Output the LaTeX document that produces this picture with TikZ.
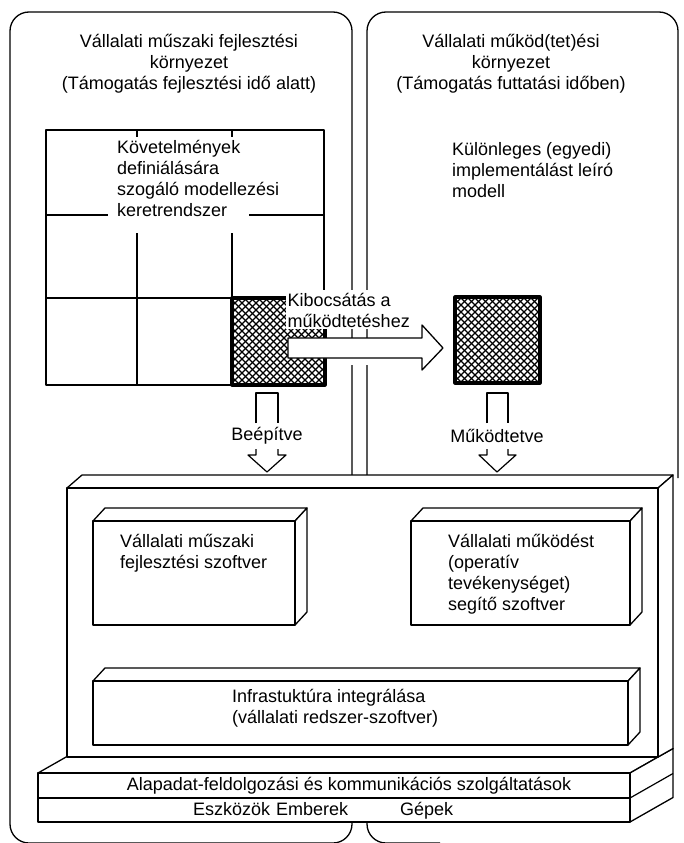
\documentclass[tikz,border=0pt]{standalone}
\usepackage{fontspec}
\setmainfont{Liberation Sans}
\begin{document}
\begin{tikzpicture}[x=1pt,y=-1pt,line join=round,
  every node/.style={inner sep=0pt,font=\fontsize{18}{21}\selectfont},
  ln/.style={line width=1.2pt},
  frame/.style={line width=1.3pt,rounded corners=19pt},
  thick border/.style={line width=3.2pt},
  hatchline/.style={line width=1.3pt},
  solid/.style={line width=1.3pt,fill=white},
  txt/.style={align=left,anchor=north west},
  ctxt/.style={align=center,anchor=north}]
\useasboundingbox (0,0) rectangle (683,843);

% the two environment frames
\draw[frame] (352,478) -- (352,12) -- (10,12) -- (10,843) -- (352,843) -- (352,818);
\draw[frame] (367,478) -- (367,12) -- (678,12) -- (678,478);
\draw[frame] (367,818) -- (367,843) -- (440,843);

\node[ctxt] (titleL) at (189,33) {\strut Vállalati műszaki fejlesztési\\környezet\\(Támogatás fejlesztési idő alatt)};
\node[ctxt] (titleR) at (511,33) {\strut Vállalati működ(tet)ési\\környezet\\(Támogatás futtatási időben)};

% modelling framework grid
\draw[ln] (324,290) -- (324,130) -- (46,130) -- (46,385) -- (232,385);
\draw[ln] (46,215) -- (108,215) (249,215) -- (324,215);
\draw[ln] (137,130) -- (137,137) (232,130) -- (232,137);
\draw[ln] (137,233) -- (137,385) (232,233) -- (232,298);
\draw[ln] (46,298) -- (232,298);
\node[txt] (frameworkText) at (117,139) {\strut Követelmények\\definiálására\\szogáló modellezési\\keretrendszer};

% hatched model squares
\begin{scope}
  \clip (232,298) rectangle (325,385);
  \foreach \k in {-100,-93,...,100} {
    \draw[hatchline] (232+\k,298) -- ++(100,100);
    \draw[hatchline] (232+\k,385) -- ++(100,-100);
  }
\end{scope}
\draw[thick border] (232,298) rectangle (325,385);
\begin{scope}
  \clip (455,297) rectangle (540,383);
  \foreach \k in {-100,-93,...,100} {
    \draw[hatchline] (455+\k,297) -- ++(100,100);
    \draw[hatchline] (455+\k,383) -- ++(100,-100);
  }
\end{scope}
\draw[thick border] (455,297) rectangle (540,383);
\node[txt] (implText) at (452,141) {\strut Különleges (egyedi)\\implementálást leíró\\modell};

% release label and hollow arrow; the frame lines break around them
\fill[white] (340,358) rectangle (380,365);
\node[txt,fill=white,inner sep=1.5pt] (release) at (286,290) {\strut Kibocsátás a\\működtetéshez};
\draw[solid] (288,338) -- (422,338) -- (422,325) -- (443,348) -- (422,370) -- (422,358) -- (288,358) -- cycle;

% downward hollow arrows
\draw[ln] (256,423) -- (256,393) -- (278,393) -- (278,423);
\node (built) at (267,436) {Beépítve};
\draw[ln] (256,449) -- (256,455) -- (248,455) -- (267,472) -- (286,455) -- (278,455) -- (278,449);
\draw[ln] (487,423) -- (487,393) -- (508,393) -- (508,423);
\node (run) at (497,436) {Működtetve};
\draw[ln] (487,449) -- (487,455) -- (479,455) -- (497,472) -- (516,455) -- (508,455) -- (508,449);

% base layer (drawn first, the large block stands on it)
\draw[solid] (38,773) -- (81,748.5) -- (673,748.5) -- (630,773) -- cycle;
\draw[solid] (630,773) -- (673,748.5) -- (673,797.5) -- (630,822) -- cycle;
\draw[ln] (630,798) -- (673,773.5);
\draw[solid] (38,773) rectangle (630,822);
\draw[ln] (38,798) -- (630,798);
\node (services) at (349,786) {Alapadat-feldolgozási és kommunikációs szolgáltatások};
\node[anchor=base west] (tools) at (193,815) {Eszközök};
\node[anchor=base west] (people) at (276,815) {Emberek};
\node[anchor=base west] (machines) at (400,815) {Gépek};

% large software block
\draw[solid] (67,488) -- (82,475) -- (673,475) -- (658,488) -- cycle;
\draw[solid] (658,488) -- (673,475) -- (673,748.5) -- (658,757) -- cycle;
\draw[solid] (67,488) rectangle (658,757);

% inner blocks
\draw[solid] (93,521) -- (105,508) -- (307,508) -- (295,521) -- cycle;
\draw[solid] (295,521) -- (307,508) -- (307,612) -- (295,625) -- cycle;
\draw[solid] (93,521) rectangle (295,625);
\node[txt] (devSw) at (120,533) {\strut Vállalati műszaki\\fejlesztési szoftver};

\draw[solid] (411,521) -- (423,508) -- (642,508) -- (630,521) -- cycle;
\draw[solid] (630,521) -- (642,508) -- (642,612) -- (630,625) -- cycle;
\draw[solid] (411,521) rectangle (630,625);
\node[txt] (opSw) at (448,533) {\strut Vállalati működést\\(operatív\\tevékenységet)\\segítő szoftver};

\draw[solid] (93,681) -- (105,668) -- (640,668) -- (628,681) -- cycle;
\draw[solid] (628,681) -- (640,668) -- (640,732) -- (628,745) -- cycle;
\draw[solid] (93,681) rectangle (628,745);
\node[txt] (infra) at (232,688) {\strut Infrastuktúra integrálása\\(vállalati redszer-szoftver)};
\end{tikzpicture}
\end{document}
